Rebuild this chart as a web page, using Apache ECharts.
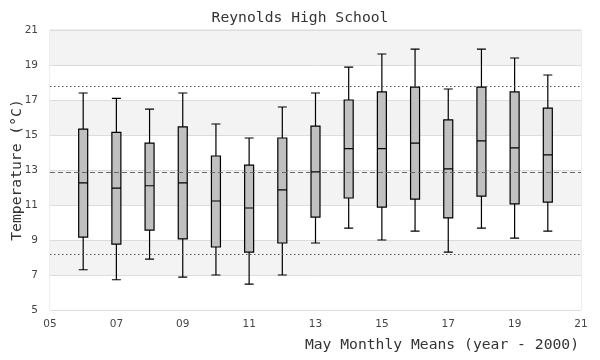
<!DOCTYPE html>
<html>
<head>
<meta charset="utf-8">
<script src="https://cdn.jsdelivr.net/npm/echarts@6/dist/echarts.min.js"></script>
<style>html,body{margin:0;padding:0;background:#fff}#c{width:600px;height:360px}</style>
</head>
<body>
<div id="c"></div>
<script>
const years   = [6, 7, 8, 9, 10, 11, 12, 13, 14, 15, 16, 17, 18, 19, 20];
const lows    = [7.30, 6.73, 7.91, 6.88, 7.00, 6.48, 7.00, 8.83, 9.68, 9.00, 9.51, 8.31, 9.68, 9.11, 9.51];
const q1s     = [9.17, 8.77, 9.57, 9.06, 8.60, 8.31, 8.83, 10.31, 11.40, 10.88, 11.34, 10.26, 11.51, 11.06, 11.17];
const medians = [12.26, 11.97, 12.10, 12.26, 11.23, 10.83, 11.86, 12.89, 14.22, 14.22, 14.54, 13.06, 14.66, 14.26, 13.86];
const q3s     = [15.34, 15.15, 14.54, 15.46, 13.80, 13.28, 14.83, 15.51, 17.00, 17.46, 17.74, 15.86, 17.74, 17.46, 16.54];
const highs   = [17.40, 17.09, 16.48, 17.40, 15.63, 14.83, 16.60, 17.40, 18.88, 19.63, 19.91, 17.63, 19.91, 19.40, 18.43];
const upperRef = 17.8;
const meanRef  = 12.9;
const lowerRef = 8.2;

const boxData = years.map((y, i) => [y, lows[i], q1s[i], medians[i], q3s[i], highs[i]]);
const mono = '"DejaVu Sans Mono", "Liberation Mono", monospace';

const chart = echarts.init(document.getElementById('c'), null, {renderer: 'canvas'});
chart.setOption({
  animation: false,
  backgroundColor: '#fff',
  title: {
    text: 'Reynolds High School',
    left: 'center',
    top: 6,
    textStyle: {fontFamily: mono, fontSize: 14.7, fontWeight: 'normal', color: '#333'}
  },
  grid: {left: 50, right: 19, top: 30, bottom: 50, containLabel: false, outerBoundsMode: 'none',
    show: true, borderColor: '#dcdcdc', borderWidth: 1, backgroundColor: 'transparent'},
  xAxis: {
    type: 'value', min: 5, max: 21, interval: 2,
    name: 'May Monthly Means (year - 2000)',
    nameLocation: 'end',
    nameGap: 0,
    nameMoveOverlap: false,
    nameTextStyle: {fontFamily: mono, fontSize: 14.7, color: '#333', align: 'right', verticalAlign: 'top', padding: [28, 2, 0, 0]},
    axisLine: {show: false}, axisTick: {show: false},
    splitLine: {show: false},
    axisLabel: {color: '#444', fontSize: 10.5, fontFamily: '"DejaVu Sans", sans-serif', margin: 9,
      formatter: v => String(v).padStart(2, '0')}
  },
  yAxis: {
    type: 'value', min: 5, max: 21, interval: 2,
    name: 'Temperature (°C)',
    nameLocation: 'middle',
    nameGap: 25,
    nameMoveOverlap: false,
    nameTextStyle: {fontFamily: mono, fontSize: 14.7, color: '#333'},
    axisLine: {show: false}, axisTick: {show: false},
    axisLabel: {color: '#444', fontSize: 10.5, fontFamily: '"DejaVu Sans", sans-serif', margin: 12},
    splitLine: {show: true, lineStyle: {color: '#dcdcdc', width: 1}},
    splitArea: {show: true, areaStyle: {color: ['#ffffff', '#f3f3f3']}}
  },
  series: [{
    type: 'boxplot',
    data: boxData,
    boxWidth: [9, 9],
    itemStyle: {color: '#c0c0c0', borderColor: '#000', borderWidth: 1.2},
    markLine: {
      silent: true, symbol: 'none', animation: false,
      label: {show: false},
      data: [
        {yAxis: upperRef, lineStyle: {color: '#555', width: 1, type: [1.5, 2.5]}},
        {yAxis: meanRef, lineStyle: {color: '#666', width: 1, type: [5, 3]}},
        {yAxis: lowerRef, lineStyle: {color: '#555', width: 1, type: [1.5, 2.5]}}
      ]
    }
  }]
});
</script>
</body>
</html>
